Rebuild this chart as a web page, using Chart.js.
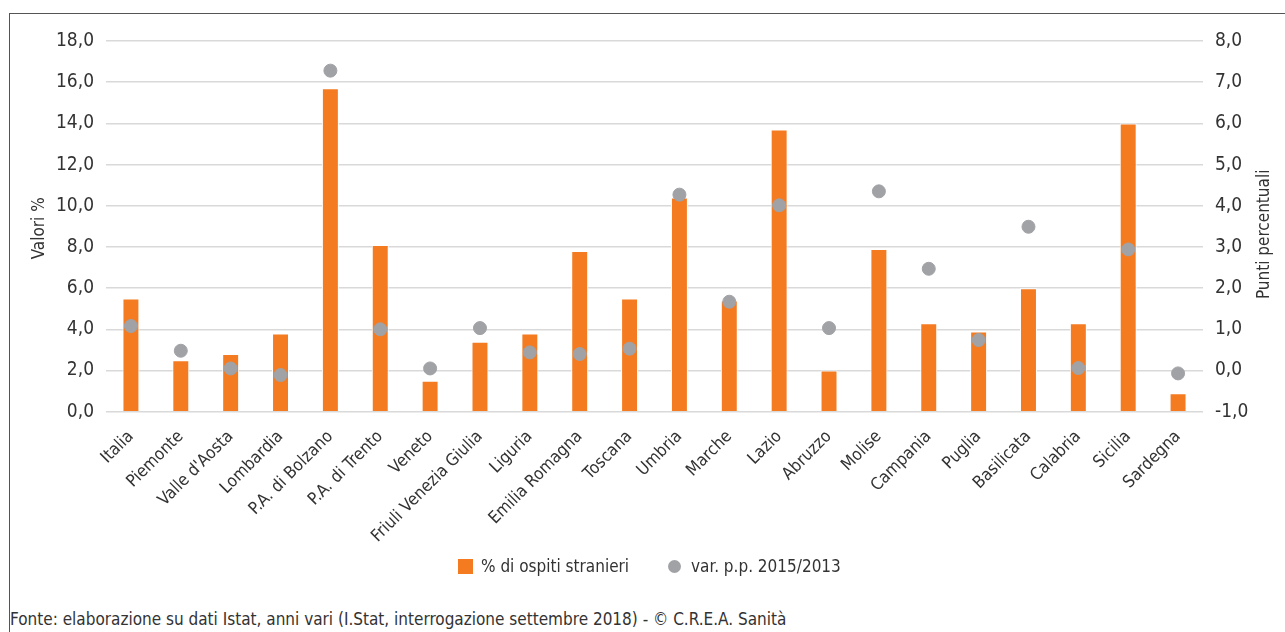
<!DOCTYPE html>
<html>
<head>
<meta charset="utf-8">
<script src="https://cdn.jsdelivr.net/npm/chart.js@4/dist/chart.umd.min.js"></script>
<style>
  body { margin: 0; background: #fff; }
  #wrap { position: relative; width: 1285px; height: 632px; overflow: hidden;
          font-family: 'DejaVu Sans Condensed', sans-serif; color: #333; }
  #frame { position: absolute; left: 9px; top: 13px; width: 1290px; height: 640px;
           border-left: 1px solid #555; border-top: 1px solid #555; }
  #chartBox { position: absolute; left: 0; top: 0; width: 1285px; height: 600px; }
  .leg { position: absolute; top: 556px; font-size: 17px; line-height: 20px; white-space: nowrap; }
  .leg i { display: inline-block; vertical-align: middle; margin-right: 8px; position: relative; top: -1px; }
  #note { position: absolute; left: 10px; top: 609px; font-size: 17px; white-space: nowrap; }
</style>
</head>
<body>
<div id="wrap">
  <div id="frame"></div>
  <div id="chartBox"><canvas id="chart"></canvas></div>
  <div class="leg" style="left:458px"><i style="width:15px;height:15px;background:#F47B20"></i>% di ospiti stranieri</div>
  <div class="leg" style="left:668px"><i style="width:13px;height:13px;border-radius:50%;background:#A1A2A6;margin-right:10px"></i>var. p.p. 2015/2013</div>
  <div id="note">Fonte: elaborazione su dati Istat, anni vari (I.Stat, interrogazione settembre 2018) - © C.R.E.A. Sanità</div>
</div>
<script>
const FONT = "'DejaVu Sans Condensed', sans-serif";
const ORANGE = "#F47B20";
const GREY = "#A1A2A6";

// data
const regions = ["Italia", "Piemonte", "Valle d'Aosta", "Lombardia", "P.A. di Bolzano", "P.A. di Trento",
  "Veneto", "Friuli Venezia Giulia", "Liguria", "Emilia Romagna", "Toscana", "Umbria", "Marche",
  "Lazio", "Abruzzo", "Molise", "Campania", "Puglia", "Basilicata", "Calabria", "Sicilia", "Sardegna"];
const ospitiStranieri = [5.5, 2.5, 2.8, 3.8, 15.7, 8.1, 1.5, 3.4, 3.8, 7.8, 5.5, 10.4, 5.4,
  13.7, 2.0, 7.9, 4.3, 3.9, 6.0, 4.3, 14.0, 0.9];
const varPP = [1.08, 0.48, 0.05, -0.11, 7.28, 1.0, 0.05, 1.03, 0.44, 0.4, 0.53, 4.27, 1.67,
  4.01, 1.03, 4.35, 2.47, 0.74, 3.49, 0.06, 2.94, -0.07];
const leftTicks = [0, 18, 2];   // min, max, step
const rightTicks = [-1, 8, 1];

const comma = v => v.toFixed(1).replace(".", ",");

// axis titles, both read bottom-to-top
const axisTitles = {
  id: "axisTitles",
  afterDraw(chart) {
    const ctx = chart.ctx;
    const a = chart.chartArea;
    const mid = (a.top + a.bottom) / 2;
    ctx.save();
    ctx.fillStyle = "#333";
    ctx.font = "17px " + FONT;
    ctx.textAlign = "center";
    ctx.textBaseline = "middle";
    [[40, "Valori %", 0], [1265, "Punti percentuali", 6]].forEach(([x, t, dy]) => {
      ctx.save();
      ctx.translate(x, mid + 2 + dy);
      ctx.rotate(-Math.PI / 2);
      ctx.fillText(t, 0, 0);
      ctx.restore();
    });
    ctx.restore();
  }
};

new Chart(document.getElementById("chart"), {
  data: {
    labels: regions,
    datasets: [
      {
        type: "bar",
        label: "% di ospiti stranieri",
        data: ospitiStranieri,
        yAxisID: "y",
        backgroundColor: ORANGE,
        borderColor: "#fff",
        borderWidth: { left: 1, right: 1, top: 1, bottom: 0 },
        categoryPercentage: 1,
        barPercentage: 0.34,
        order: 2
      },
      {
        type: "scatter",
        label: "var. p.p. 2015/2013",
        data: varPP,
        yAxisID: "y1",
        backgroundColor: GREY,
        borderColor: GREY,
        pointRadius: 6.5,
        pointHoverRadius: 6.5,
        order: 1
      }
    ]
  },
  options: {
    responsive: true,
    maintainAspectRatio: false,
    animation: false,
    layout: { padding: { top: 41, bottom: 0, left: 0, right: 0 } },
    plugins: {
      tooltip: { enabled: false },
      legend: { display: false }
    },
    scales: {
      x: {
        type: "category",
        offset: true,
        grid: { display: false },
        border: { display: false },
        ticks: {
          maxRotation: 45, minRotation: 45, autoSkip: false,
          color: "#333", font: { family: FONT, size: 17 }, padding: 7
        },
        afterFit: s => { s.height = 188.3; }
      },
      y: {
        position: "left",
        min: leftTicks[0], max: leftTicks[1],
        ticks: { stepSize: leftTicks[2], callback: comma, color: "#333", font: { family: FONT, size: 19 }, padding: 12 },
        grid: { color: "#D9D9D9", lineWidth: 1.6, drawTicks: false },
        border: { display: false },
        afterFit: s => { s.width = 106; }
      },
      y1: {
        position: "right",
        min: rightTicks[0], max: rightTicks[1],
        ticks: { stepSize: rightTicks[2], callback: comma, color: "#333", font: { family: FONT, size: 19 }, padding: 12 },
        grid: { display: false, drawTicks: false },
        border: { display: false },
        afterFit: s => { s.width = 82; }
      }
    }
  },
  plugins: [axisTitles]
});
</script>
</body>
</html>
